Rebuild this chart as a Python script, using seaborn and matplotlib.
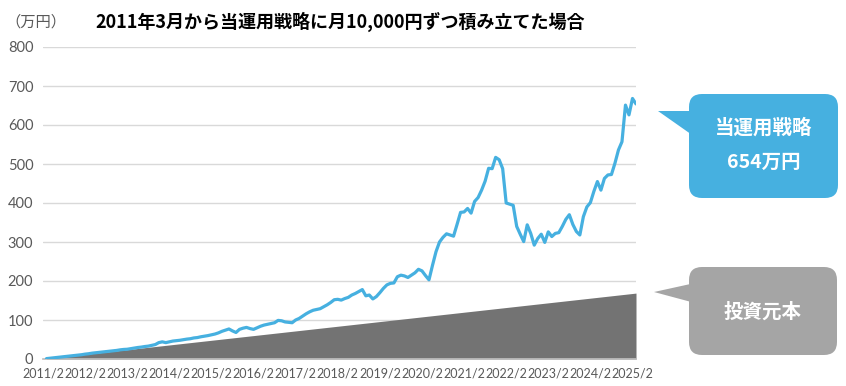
import matplotlib
matplotlib.use('Agg')
import matplotlib.pyplot as plt
import seaborn as sns
import pandas as pd
from matplotlib.patches import FancyBboxPatch, Polygon

# Texts
title = '2011年3月から当運用戦略に月10,000円ずつ積み立てた場合'
unit_label = '（万円）'
strategy_name = '当運用戦略'
strategy_final = '654万円'
principal_name = '投資元本'

# Monthly data, 2011/3 .. 2025/3 (unit: 万円)
month_no = list(range(1, 170))
principal = list(range(1, 170))
strategy = [
    1, 2, 3, 4, 5, 6, 7, 8, 9, 10, 11, 12.5,
    13.5, 15, 16, 17, 18, 19, 20, 21, 22, 23.5, 24.5, 25,
    26.5, 28, 29.5, 30.5, 32, 33, 35, 37, 42, 44, 42, 44,
    46, 47, 48, 49.5, 51, 52, 54, 55, 57, 58.5, 60, 62,
    64, 67, 71, 74, 77, 72, 68, 76, 79, 81, 78, 76,
    80, 84, 87, 89, 91, 93, 99, 98, 95, 94, 93, 100,
    104, 110, 116, 121, 125, 127, 129, 134, 139, 145, 152, 153,
    151, 155, 158, 164, 168, 173, 178, 162, 164, 154, 160, 170,
    181, 190, 194, 195, 211, 215, 213, 209, 215, 221, 230, 226,
    214, 203, 240, 275, 300, 312, 321, 318, 315, 345, 376, 377,
    386, 374, 404, 414, 433, 456, 489, 488, 517, 511, 488, 400,
    397, 394, 340, 320, 301, 344, 322, 292, 309, 320, 299, 326,
    314, 322, 324, 340, 358, 370, 345, 327, 318, 365, 390, 401,
    430, 455, 433, 463, 472, 473, 502, 536, 557, 651, 626, 668, 654,
]
tick_months = list(range(0, 169, 12))
tick_labels = [f'{y}/2' for y in range(2011, 2026)]
y_ticks = list(range(0, 801, 100))

blue = '#46b0e0'
dark_gray = '#737373'
box_gray = '#a5a5a5'
text_gray = '#595959'

df = pd.DataFrame({'month': month_no, 'principal': principal, 'strategy': strategy})

sns.set_theme(style='white')
plt.rcParams['font.family'] = ['Lato', 'Noto Sans CJK JP', 'DejaVu Sans']

W, H = 846, 386
fig = plt.figure(figsize=(W / 100, H / 100), dpi=100)
ax = fig.add_axes([43 / W, 1 - 359 / H, (636 - 43) / W, (359 - 47) / H])

# principal area
ax.fill_between(df['month'], 0, df['principal'], color=dark_gray, linewidth=0, zorder=2)
# strategy line
sns.lineplot(data=df, x='month', y='strategy', color=blue, linewidth=2.3, ax=ax, zorder=3)

ax.set_xlim(0, 169)
ax.set_ylim(0, 800)
ax.set_yticks(y_ticks)
ax.set_yticklabels([str(v) for v in y_ticks])
ax.set_xticks(tick_months)
ax.set_xticklabels(tick_labels)
ax.grid(axis='y', color='#d9d9d9', linewidth=1)
ax.set_axisbelow(True)
ax.set_xlabel('')
ax.set_ylabel('')
for side in ['top', 'right', 'left']:
    ax.spines[side].set_visible(False)
ax.spines['bottom'].set_color('#bfbfbf')
ax.tick_params(axis='y', length=0, pad=7, labelsize=10.5, labelcolor=text_gray)
ax.tick_params(axis='x', length=4, width=1, color='#bfbfbf', pad=2,
               labelsize=9, labelcolor=text_gray)

# overlay in pixel units for title and callouts
ov = fig.add_axes([0, 0, 1, 1], facecolor='none')
ov.set_xlim(0, W)
ov.set_ylim(H, 0)
ov.axis('off')

ov.text(5, 22, unit_label, fontsize=11, color=text_gray, va='center', ha='left',
        family=['Noto Sans CJK JP'])
ov.text(340, 22, title, fontsize=13, fontweight='bold', color='black', va='center',
        ha='center', family=['Noto Sans CJK JP'])


def callout(x0, y0, x1, y1, tip, base, color, lines, line_y):
    box = FancyBboxPatch((x0, y0), x1 - x0, y1 - y0,
                         boxstyle='round,pad=0,rounding_size=13',
                         facecolor=color, edgecolor='none')
    ov.add_patch(box)
    ov.add_patch(Polygon([tip, (x0 + 6, base[0]), (x0 + 6, base[1])],
                         closed=True, facecolor=color, edgecolor='none'))
    cx = (x0 + x1) / 2
    for txt, ty in zip(lines, line_y):
        ov.text(cx, ty, txt, color='white', fontsize=14, fontweight='bold',
                ha='center', va='center', family=['Noto Sans CJK JP'])


callout(689, 94, 838, 198, (658, 111), (111, 137), blue,
        [strategy_name, strategy_final], [128, 162])
callout(689, 267, 837, 355, (654, 292), (283, 303), box_gray,
        [principal_name], [312])

fig.savefig('out.png', dpi=100)
